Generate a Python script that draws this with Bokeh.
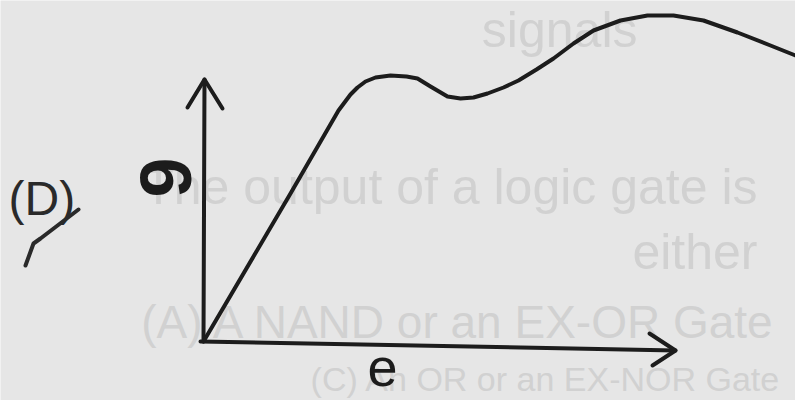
import math
from bokeh.plotting import figure
from bokeh.models import Range1d
from bokeh.embed import file_html
from bokeh.resources import INLINE
from bokeh.core.properties import value

# ---- data (units: e along x, theta along y, origin at the axes corner) ----
curve_e = [0, 87, 135, 141, 147, 154, 162, 172, 187, 203, 214, 227, 244, 257,
           270, 284, 300, 315, 333, 350, 370, 390, 417, 444, 470, 500, 534, 567, 592]
curve_th = [0, 148, 231, 239, 247, 254, 260, 264, 266, 265, 263, 255, 245, 243,
            244, 248, 254, 261, 272, 283, 298, 311, 321, 326, 326, 321, 309, 296, 286]

axes_x = [[0, 1], [-16, 1, 19], [-3, 472], [446, 472, 449]]
axes_y = [[0, 262], [234, 262, 233], [0, -9], [8, -9, -24]]

tick_x = [-178, -170, -163, -125]
tick_y = [76, 98, 103, 132]

x_label = "e"
y_label = "9"
option_label = "(D)"

bleed_texts = ["signals", "The output of a logic gate is", "either",
               "(A)  A NAND or an EX-OR Gate", "(C)  An OR or an EX-NOR Gate"]
bleed_x = [434, 554, 554, 587, 587]
bleed_y = [312, 155, 90, 20, -37]
bleed_size = ["50px", "50px", "50px", "46px", "34px"]

ink = "#1c1c1c"
paper = "#e6e6e6"

p = figure(width=795, height=400, output_backend="svg", toolbar_location=None,
           x_range=Range1d(-203, 592), y_range=Range1d(-59, 341),
           x_axis_type=None, y_axis_type=None, min_border=0,
           background_fill_color=paper, border_fill_color=paper,
           outline_line_color=None)
p.grid.visible = False

# faint show-through text from the reverse side of the page
p.text(x=bleed_x, y=bleed_y, text=bleed_texts, text_align="right",
       text_baseline="middle", text_font=value("Liberation Sans"),
       text_font_size=bleed_size, text_color="#d1d1d1")

# axes with arrow heads
p.multi_line(xs=axes_x, ys=axes_y, line_color=ink, line_width=4,
             line_cap="round", line_join="round")

# the curve
p.line(curve_e, curve_th, line_color=ink, line_width=4,
       line_cap="round", line_join="round")

# pen tick next to option label
p.line(tick_x, tick_y, line_color="#2a2a2a", line_width=4, line_cap="round",
       line_join="round")

p.text(x=[179], y=[-26], text=[x_label], text_align="center",
       text_baseline="middle", text_font=value("Liberation Sans"),
       text_font_size="54px", text_color=ink)

p.text(x=[-38], y=[164], text=[y_label], angle=math.pi / 2, text_align="center",
       text_baseline="middle", text_font=value("Liberation Sans"),
       text_font_style="bold", text_font_size="72px", text_color=ink)

p.text(x=[-195], y=[143], text=[option_label], text_align="left",
       text_baseline="middle", text_font=value("Liberation Sans"),
       text_font_size="48px", text_color="#2a2a2a")

open("out.html", "w").write(file_html(p, INLINE))
